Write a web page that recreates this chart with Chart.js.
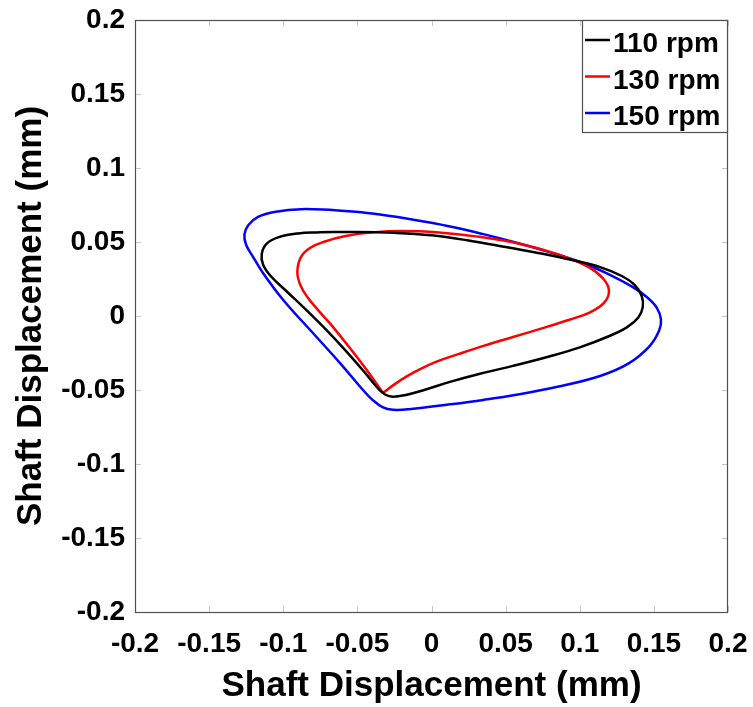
<!DOCTYPE html>
<html>
<head>
<meta charset="utf-8">
<script src="https://cdn.jsdelivr.net/npm/chart.js@4/dist/chart.umd.min.js"></script>
<style>
  html, body { margin: 0; padding: 0; background: #fff; }
  #wrap { width: 753px; height: 707px; }
</style>
</head>
<body>
<div id="wrap"><canvas id="orbit" width="753" height="707"></canvas></div>
<script>
// Shaft orbit loops (x, y in mm) for three shaft speeds
const speedLabels = ['110 rpm', '130 rpm', '150 rpm'];
const speedColors = ['#000000', '#ff0000', '#0000ff'];

const orbit110 = [
  [-0.0750, 0.0566], [-0.0500, 0.0568], [-0.0250, 0.0562], [0.0000, 0.0545],
  [0.0250, 0.0510], [0.0500, 0.0466], [0.0750, 0.0420], [0.0970, 0.0373],
  [0.1137, 0.0330], [0.1280, 0.0272], [0.1370, 0.0210], [0.1418, 0.0135],
  [0.1425, 0.0060], [0.1395, -0.0010], [0.1320, -0.0075], [0.1200, -0.0135],
  [0.1000, -0.0212], [0.0800, -0.0272], [0.0550, -0.0337], [0.0327, -0.0390],
  [0.0125, -0.0445], [-0.0050, -0.0500], [-0.0180, -0.0535], [-0.0260, -0.0545],
  [-0.0310, -0.0532], [-0.0360, -0.0490], [-0.0450, -0.0382], [-0.0570, -0.0244],
  [-0.0700, -0.0104], [-0.0840, 0.0036], [-0.0980, 0.0169], [-0.1080, 0.0265],
  [-0.1135, 0.0345], [-0.1145, 0.0420], [-0.1110, 0.0490], [-0.1030, 0.0533],
  [-0.0900, 0.0558], [-0.0750, 0.0566]
];

// starts and ends on the sharp lower-left corner
const orbit130 = [
  [-0.0327, -0.0520], [-0.0415, -0.0395], [-0.0503, -0.0277], [-0.0595, -0.0160],
  [-0.0685, -0.0050], [-0.0765, 0.0040], [-0.0835, 0.0125], [-0.0885, 0.0210],
  [-0.0905, 0.0300], [-0.0880, 0.0400], [-0.0820, 0.0460], [-0.0730, 0.0500],
  [-0.0580, 0.0540], [-0.0400, 0.0565], [-0.0200, 0.0575], [0.0050, 0.0565],
  [0.0300, 0.0538], [0.0600, 0.0487], [0.0850, 0.0418], [0.1060, 0.0330],
  [0.1160, 0.0250], [0.1197, 0.0170], [0.1165, 0.0090], [0.1070, 0.0025],
  [0.0930, -0.0025], [0.0750, -0.0082], [0.0550, -0.0142], [0.0350, -0.0202],
  [0.0180, -0.0258], [0.0030, -0.0310], [-0.0080, -0.0360], [-0.0170, -0.0410],
  [-0.0250, -0.0462], [-0.0327, -0.0520]
];

const orbit150 = [
  [-0.0650, 0.0715], [-0.0400, 0.0692], [-0.0150, 0.0655], [0.0125, 0.0605],
  [0.0350, 0.0553], [0.0574, 0.0495], [0.0800, 0.0430], [0.1020, 0.0358],
  [0.1200, 0.0280], [0.1350, 0.0200], [0.1450, 0.0130], [0.1520, 0.0055],
  [0.1548, -0.0025], [0.1535, -0.0100], [0.1470, -0.0205], [0.1330, -0.0320],
  [0.1137, -0.0405], [0.0850, -0.0478], [0.0574, -0.0532], [0.0350, -0.0567],
  [0.0125, -0.0597], [-0.0150, -0.0630], [-0.0260, -0.0634], [-0.0327, -0.0618],
  [-0.0400, -0.0565], [-0.0462, -0.0500], [-0.0617, -0.0318], [-0.0800, -0.0115],
  [-0.1000, 0.0108], [-0.1137, 0.0291], [-0.1204, 0.0400], [-0.1250, 0.0480],
  [-0.1262, 0.0550], [-0.1235, 0.0615], [-0.1170, 0.0670], [-0.1050, 0.0705],
  [-0.0880, 0.0722], [-0.0650, 0.0715]
];

const tickValues = [-0.2, -0.15, -0.1, -0.05, 0, 0.05, 0.1, 0.15, 0.2];
const tickLabels = ['-0.2', '-0.15', '-0.1', '-0.05', '0', '0.05', '0.1', '0.15', '0.2'];
const axisTitle = 'Shaft Displacement (mm)';

const FONT = "'Liberation Sans', Arial, Helvetica, sans-serif";

const toXY = arr => arr.map(p => ({ x: p[0], y: p[1] }));
const orbits = [orbit110, orbit130, orbit150];

// Box around the axes with short inward tick marks on every side
const frameBox = {
  id: 'frameBox',
  afterDatasetsDraw(chart) {
    const { ctx, chartArea: a, scales } = chart;
    ctx.save();
    ctx.strokeStyle = '#c8c8c8';
    ctx.lineWidth = 1;
    const len = 6;
    tickValues.forEach(v => {
      const px = Math.round(scales.x.getPixelForValue(v)) + 0.5;
      const py = Math.round(scales.y.getPixelForValue(v)) + 0.5;
      ctx.beginPath();
      ctx.moveTo(px, a.bottom); ctx.lineTo(px, a.bottom - len);
      ctx.moveTo(px, a.top); ctx.lineTo(px, a.top + len);
      ctx.moveTo(a.left, py); ctx.lineTo(a.left + len, py);
      ctx.moveTo(a.right, py); ctx.lineTo(a.right - len, py);
      ctx.stroke();
    });
    ctx.strokeStyle = '#505050';
    ctx.lineWidth = 1.2;
    ctx.strokeRect(Math.round(a.left) + 0.5, Math.round(a.top) + 0.5,
                   Math.round(a.right - a.left) - 1, Math.round(a.bottom - a.top));
    ctx.restore();
  }
};

// Legend box in the upper-right corner of the axes
const cornerLegend = {
  id: 'cornerLegend',
  afterDraw(chart) {
    const { ctx, chartArea: a } = chart;
    const boxW = 146, rowH = 36.5, boxH = 112;
    const x0 = a.right - boxW, y0 = a.top;
    ctx.save();
    ctx.fillStyle = '#ffffff';
    ctx.fillRect(x0, y0, boxW, boxH);
    ctx.strokeStyle = '#505050';
    ctx.lineWidth = 1.2;
    ctx.strokeRect(x0 + 0.5, y0 + 0.5, boxW - 1, boxH);
    ctx.font = 'bold 28px ' + FONT;
    ctx.textBaseline = 'alphabetic';
    ctx.textAlign = 'left';
    chart.data.datasets.forEach((ds, i) => {
      const ly = y0 + 20 + i * rowH;
      ctx.strokeStyle = ds.borderColor;
      ctx.lineWidth = 2.5;
      ctx.beginPath();
      ctx.moveTo(x0 + 3, ly);
      ctx.lineTo(x0 + 28, ly);
      ctx.stroke();
      ctx.fillStyle = '#000000';
      ctx.fillText(ds.label, x0 + 31, ly + 12);
    });
    ctx.restore();
  }
};

const axisCommon = (isX) => ({
  type: 'linear',
  min: -0.2,
  max: 0.2,
  grid: { display: false, drawTicks: false },
  border: { display: false },
  afterBuildTicks(scale) {
    scale.ticks = tickValues.map(v => ({ value: v }));
  },
  ticks: {
    autoSkip: false,
    maxRotation: 0,
    padding: isX ? 15 : 10,
    color: '#000000',
    font: { family: FONT, size: 28, weight: 'bold' },
    callback(value) {
      const i = tickValues.findIndex(t => Math.abs(t - value) < 1e-9);
      return i >= 0 ? tickLabels[i] : '';
    }
  },
  title: {
    display: true,
    text: axisTitle,
    color: '#000000',
    font: { family: FONT, size: 35, weight: 'bold' },
    padding: isX ? { top: 0, bottom: 0 } : { top: 10, bottom: 0 }
  }
});

// fixed axis band sizes, no extra room for overhanging end labels
const clearPad = scale => {
  scale.paddingLeft = 0; scale.paddingRight = 0;
  scale.paddingTop = 0; scale.paddingBottom = 0;
};

const xAxis = axisCommon(true);
xAxis.position = 'bottom';
xAxis.afterFit = scale => { scale.height = 95; clearPad(scale); };
const yAxis = axisCommon(false);
yAxis.position = 'left';
yAxis.afterFit = scale => { scale.width = 135; clearPad(scale); };

new Chart(document.getElementById('orbit'), {
  type: 'scatter',
  data: {
    datasets: orbits.map((o, i) => ({
      label: speedLabels[i],
      data: toXY(o),
      showLine: true,
      borderColor: speedColors[i],
      backgroundColor: speedColors[i],
      borderWidth: 2.5,
      pointRadius: 0,
      pointHoverRadius: 0,
      tension: 0.4,
      fill: false
    }))
  },
  options: {
    responsive: false,
    animation: false,
    events: [],
    layout: { padding: { top: 20, right: 25, left: 0, bottom: 0 } },
    plugins: { legend: { display: false }, tooltip: { enabled: false } },
    scales: { x: xAxis, y: yAxis }
  },
  plugins: [frameBox, cornerLegend]
});
</script>
</body>
</html>
